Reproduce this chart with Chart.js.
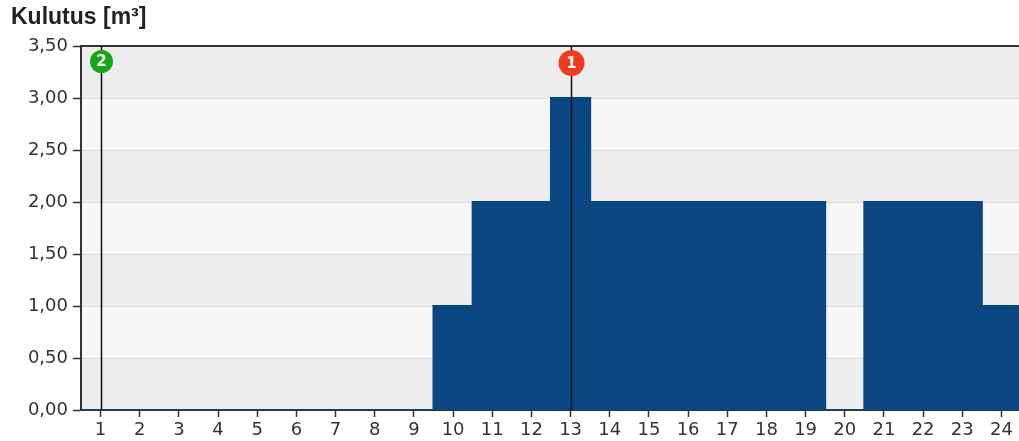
<!DOCTYPE html>
<html>
<head>
<meta charset="utf-8">
<script src="https://cdn.jsdelivr.net/npm/chart.js@4/dist/chart.umd.min.js"></script>
<style>
  html, body { margin: 0; padding: 0; background: #fff; overflow: hidden; }
  #wrap { position: relative; width: 1022px; height: 441px; }
</style>
</head>
<body>
<div id="wrap"><canvas id="chart"></canvas></div>
<script>
const hours = ['1','2','3','4','5','6','7','8','9','10','11','12','13','14','15','16','17','18','19','20','21','22','23','24'];
const usage = [0, 0, 0, 0, 0, 0, 0, 0, 0, 1, 2, 2, 3, 2, 2, 2, 2, 2, 2, 0, 2, 2, 2, 1];
const yTicks = [0, 0.5, 1, 1.5, 2, 2.5, 3, 3.5];
const markerHours = ['1', '13'];
const markerLabels = ['2', '1'];
const markerColors = ['#14a814', '#f03c1c'];
const markerRadii = [11.5, 13];

const TEXT = '#333333';
const BAR = '#0a4681';

const bandsPlugin = {
  id: 'bands',
  beforeDraw(chart) {
    const { ctx, chartArea: a, scales: { y } } = chart;
    ctx.save();
    for (let i = 0; i < yTicks.length - 1; i++) {
      const top = y.getPixelForValue(yTicks[i + 1]);
      const bot = y.getPixelForValue(yTicks[i]);
      ctx.fillStyle = i % 2 === 0 ? '#ededed' : '#f7f7f7';
      ctx.fillRect(a.left, top, a.right - a.left, bot - top);
    }
    ctx.restore();
  }
};

const markersPlugin = {
  id: 'markers',
  afterDatasetsDraw(chart) {
    const { ctx, chartArea: a, scales: { x } } = chart;
    ctx.save();
    // top border
    ctx.strokeStyle = '#333';
    ctx.lineWidth = 2;
    ctx.beginPath();
    ctx.moveTo(a.left, a.top);
    ctx.lineTo(a.right, a.top);
    ctx.stroke();

    markerHours.forEach((h, i) => {
      const px = Math.round(x.getPixelForValue(hours.indexOf(h))) + 0.5;
      ctx.strokeStyle = '#111';
      ctx.lineWidth = 1.5;
      ctx.beginPath();
      ctx.moveTo(px, a.top);
      ctx.lineTo(px, a.bottom);
      ctx.stroke();

      const r = markerRadii[i];
      const cy = a.top + 4 + r;
      ctx.fillStyle = markerColors[i];
      ctx.beginPath();
      ctx.arc(px, cy, r, 0, Math.PI * 2);
      ctx.fill();
      ctx.fillStyle = '#fff';
      ctx.font = 'bold 15px "DejaVu Sans", sans-serif';
      ctx.textAlign = 'center';
      ctx.textBaseline = 'middle';
      ctx.fillText(markerLabels[i], px, cy + 1);
    });
    ctx.restore();
  }
};

new Chart(document.getElementById('chart'), {
  type: 'bar',
  data: {
    labels: hours,
    datasets: [{
      label: 'Kulutus',
      data: usage,
      backgroundColor: BAR,
      borderWidth: 0,
      inflateAmount: 1,
      barPercentage: 1,
      categoryPercentage: 1
    }]
  },
  options: {
    responsive: true,
    maintainAspectRatio: false,
    animation: false,
    layout: { padding: { left: 11, right: 1, top: 0, bottom: 0 } },
    plugins: {
      legend: { display: false },
      tooltip: { enabled: false },
      title: {
        display: true,
        text: 'Kulutus [m³]',
        align: 'start',
        color: '#222',
        font: { family: '"Liberation Sans", Arial, sans-serif', size: 23, weight: 'bold', lineHeight: 1.2 },
        padding: { top: 4, bottom: 14.4 }
      }
    },
    scales: {
      x: {
        offset: true,
        afterFit(s) { s.height = 31; },
        grid: { display: true, drawOnChartArea: false, offset: false, tickLength: 7, tickColor: '#333', tickWidth: 1.5 },
        border: { display: true, color: '#333', width: 2 },
        ticks: {
          color: TEXT,
          padding: 3,
          maxRotation: 0,
          autoSkip: false,
          font: { family: '"DejaVu Sans", sans-serif', size: 18 }
        }
      },
      y: {
        min: 0,
        max: 3.5,
        afterFit(s) { s.width = 70; },
        afterBuildTicks(s) { s.ticks = yTicks.map(v => ({ value: v })); },
        grid: { color: '#dddddd', lineWidth: 1, tickLength: 8, tickColor: '#333', tickWidth: 1.5 },
        border: { display: true, color: '#333', width: 2 },
        ticks: {
          color: TEXT,
          padding: 5,
          font: { family: '"DejaVu Sans", sans-serif', size: 18 },
          callback: v => v.toFixed(2).replace('.', ',')
        }
      }
    }
  },
  plugins: [bandsPlugin, markersPlugin]
});
</script>
</body>
</html>
